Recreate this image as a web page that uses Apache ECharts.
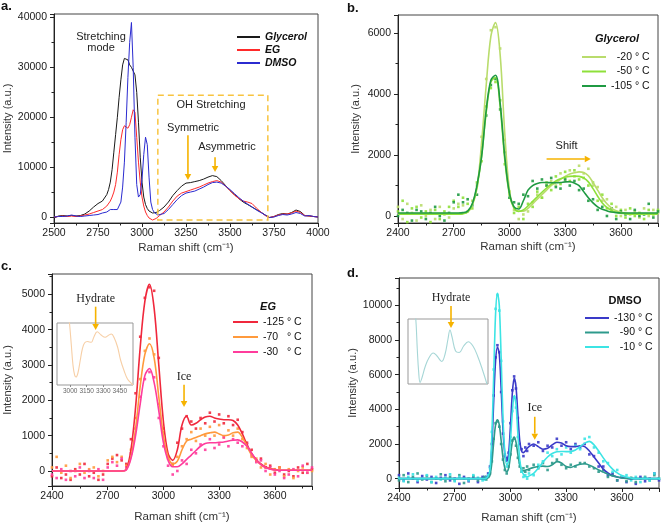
<!DOCTYPE html>
<html><head><meta charset="utf-8">
<script src="https://cdn.jsdelivr.net/npm/echarts@6/dist/echarts.min.js"></script>
<style>html,body{margin:0;padding:0;background:#fff}#c{width:661px;height:526px}</style>
</head><body><div id="c"></div>
<script>
// ---------- Panel a: raw spectra ----------
const xA = [2500,2525,2550,2575,2600,2625,2650,2675,2700,2725,2750,2775,2800,
 2810,2820,2830,2840,2850,2860,2870,2880,2890,2900,2910,2920,2930,2940,2950,2960,2970,2980,2990,3000,3010,3020,3030,3040,3050,3060,3070,3080,3090,3100,
 3125,3150,3175,3200,3225,3250,3275,3300,3325,3350,3375,3400,3425,3450,3475,3500,3525,3550,3575,3600,3625,3650,3675,3700,3725,3750,3775,3800,3825,3850,3875,3900,3925,3950,3975,4000];
const aGlycerol = [-200,200,300,200,300,200,300,600,1200,2000,2700,3200,4500,
 5500,7000,9500,13000,16500,20000,24000,27500,30500,31800,32000,31500,30500,30000,29800,28500,25000,19000,12000,7000,4000,2500,1700,1200,900,800,800,900,1100,1300,
 2000,3000,4300,5300,6200,6800,6900,7100,7300,7600,8000,8300,8100,7300,6300,5300,4500,3700,3000,2500,2000,1500,1000,400,-100,100,500,700,600,900,1400,1100,300,200,100,0];
const aEG = [0,100,200,100,200,100,200,400,600,900,1200,1500,2200,
 2600,3200,4000,5000,6500,9000,12500,15500,17500,18300,18000,17800,18500,20000,21500,21000,16000,11000,7000,4000,2200,1000,300,-200,-500,-600,-500,-300,0,300,
 1000,2000,3200,4200,4800,5100,5400,5700,6000,6400,6800,7100,7300,7000,6200,5300,4400,3700,3200,3000,2700,1800,1000,300,-100,100,400,600,600,800,1200,900,300,200,100,0];
const aDMSO = [0,100,100,200,400,200,100,200,300,400,500,800,1000,
 1200,1500,1800,1500,1400,1500,1800,3000,6000,11000,19000,28000,35000,39000,30000,16000,6500,4000,4500,7500,12500,16000,14500,8000,3000,1500,900,600,400,300,
 700,1500,2500,3500,4300,4800,5000,5200,5600,6000,6500,6900,7000,6800,6200,5500,4700,3900,3200,2600,2000,1400,900,400,-100,0,300,500,400,600,900,700,200,300,100,0];

// ---------- Panel b: Glycerol ----------
const xB = [2400,2425,2450,2475,2500,2525,2550,2575,2600,2625,2650,2675,2700,2725,2750,2775,2800,2825,2850,2875,2900,2925,2950,2975,3000,3025,3050,3075,3100,3125,3150,3175,3200,3225,3250,3275,3300,3325,3350,3375,3400,3425,3450,3475,3500,3525,3550,3575,3600,3625,3650,3675,3700,3725,3750,3775,3800];
const fitB20 = [80,80,80,80,80,80,80,80,80,80,80,80,80,80,
 90,130,350,900,2400,4300,5900,6350,5300,2700,850,260,160,160,250,400,550,700,850,1000,1100,1200,1300,1380,1420,1450,1430,1320,1100,850,600,400,260,170,120,100,
 80,80,80,80,80,80,80];
const fitB50 = [60,60,60,60,60,60,60,60,60,60,60,60,60,60,
 70,130,380,950,1950,3400,4400,4550,3600,1850,700,250,150,200,330,480,630,780,920,1050,1150,1220,1270,1300,1310,1300,1250,1120,900,650,430,280,180,120,90,70,
 60,60,60,60,60,60,60];
const fitB105 = [100,100,100,100,100,100,100,100,100,100,100,100,100,100,
 110,160,400,1000,1950,3480,4460,4620,3700,1950,750,300,230,500,850,1000,1070,1100,1100,1090,1090,1100,1120,1125,1080,1000,800,600,430,300,220,170,130,110,100,100,
 100,100,100,100,100,100,100];
const ptsB20 = [300,-100,400,100,-150,350,0,200,-100,300, 50,-50,250,400,350,150,500,1000,2600,4500, 6100,6200,5500,2500,700,200,-100,50,150,450, 700,600,1000,1150,1000,1400,1200,1500,1300,1650, 1400,1550,1000,950,500,550,150,300,0,200, 50,150,-50,250,0,200,100];
const ptsB50 = [150,500,-200,250,300,-50,150,-200,200,-100, 150,300,500,300,600,400,250,1100,1800,3600, 4200,4400,3800,1700,800,100,300,-100,400,300, 800,600,1100,850,1300,1050,1450,1150,1500,1200, 1250,1000,1100,500,700,250,400,0,200,-50, 250,0,100,-100,200,50,200];
const ptsB105 = [0,200,100,-150,200,150,-100,100,300,0, -150,100,450,700,450,550,350,700,2100,3300, 4300,4500,3500,2100,600,450,400,700,650,1150, 900,1200,1000,1250,950,900,1200,1000,1150,850, 900,500,550,200,300,0,250,-100,150,50, -100,200,0,50,400,-50,150];

// ---------- Panel c: EG ----------
const xC = xB.slice();
const fitC125 = [0,0,0,0,0,0,0,0,0,0,0,0,0,0,0,0,
 50,600,1800,3500,4800,5280,4600,3000,1400,500,300,600,1300,1550,1300,1350,1450,1530,1550,1500,1470,1450,1450,1430,1300,1050,750,500,320,200,120,70,40,
 20,20,20,20,20,20,20,20];
const fitC70 = [0,0,0,0,0,0,0,0,0,0,0,0,0,0,0,0,
 40,400,1200,2400,3300,3600,3200,2100,1000,400,200,280,600,850,900,950,1000,1050,1080,1100,1050,1000,1020,1080,1100,950,700,450,300,180,100,60,30,
 20,20,20,20,20,20,20,20];
const fitC30 = [0,0,0,0,0,0,0,0,0,0,0,0,0,0,0,0,
 30,350,1000,1900,2700,2900,2500,1700,800,300,120,120,200,330,450,580,700,780,800,800,810,820,850,870,880,820,700,500,320,180,100,50,30,
 20,20,20,20,20,20,20,20];
const ptsC125 = [-150,100,-200,-100,-250,50,-100,200,-150,-50, -250,-100,200,350,450,300,200,900,2200,3800, 4900,5200,5100,3200,1200,400,200,800,1200,1550, 1400,1200,1500,1350,1650,1400,1600,1350,1550,1300, 1450,1100,800,600,300,350,100,150,-50,100, -100,0,-150,100,-50,200,50];
const ptsC70 = [100,400,-50,150,-200,0,200,-50,50,100, -150,0,300,400,250,400,150,600,1500,2600, 3400,3750,3300,1900,1100,350,150,400,700,900, 1100,850,1200,1000,1250,1000,1300,950,1150,1000, 1200,900,650,400,350,100,200,-100,50,100, -150,50,-200,0,100,-50,0];
const ptsC30 = [-100,-200,50,-250,0,-150,100,-200,0,-200, 50,-250,100,250,150,350,100,500,1200,2100, 2600,2800,2650,1500,700,150,-100,0,300,200, 600,500,750,600,900,650,750,950,700,900, 800,700,750,450,250,300,0,100,-100,0, -200,-100,50,-150,150,-50,100];
const insetCX = [2980,2995,3010,3025,3040,3053,3070,3090,3110,3130,3157,3175,3192,3215,3245,3280,3318,3345,3374,3400,3430,3457,3490,3520,3555,3570];
const insetCY = [75,60,40,20,10,8,12,24,36,42,43.5,43,42.7,48,53.3,50,47.7,49.5,51,47,38,25,14,6,1.7,0];

// ---------- Panel d: DMSO ----------
const xD = [2400,2425,2450,2475,2500,2525,2550,2575,2600,2625,2650,2675,2700,2725,2750,2775,2800,2825,2850,
 2860,2870,2880,2890,2900,2910,2920,2930,2940,2950,2960,2970,2980,2990,3000,3010,3020,3030,3040,3050,3060,3070,3080,3090,3100,
 3125,3150,3175,3200,3225,3250,3275,3300,3325,3350,3375,3400,3425,3450,3475,3500,3525,3550,3575,3600,3625,3650,3675,3700,3725,3750,3775,3800];
const fitD130 = [0,0,0,0,0,0,0,0,0,0,0,0,0,0,0,0,0,0,0,
 0,30,120,400,1800,4500,6800,7600,7200,5200,2800,1400,1000,1400,3000,4900,5800,5300,3700,2200,1600,1500,1600,1750,1850,
 2000,1850,1700,1750,1950,2100,2050,1900,1850,1850,1900,1850,1600,1250,900,550,330,180,100,50,20,0,0,0,0,0,0,0];
const fitD90 = [0,0,0,0,0,0,0,0,0,0,0,0,0,0,0,0,0,0,0,
 0,20,60,200,900,2100,3100,3400,3100,2200,1200,600,400,600,1300,2100,2400,2100,1400,800,500,450,480,520,560,
 650,700,720,700,800,980,900,700,650,750,830,860,780,650,500,380,260,160,90,40,15,0,0,0,0,0,0,0];
const fitD10 = [0,0,0,0,0,0,0,0,0,0,0,0,0,0,0,0,0,0,0,
 0,30,150,500,2500,6000,9500,10700,10000,7000,3500,1500,800,1000,2200,3800,4800,4300,2600,1100,500,250,120,100,150,
 300,600,950,1250,1450,1550,1570,1560,1570,1650,1850,2050,2150,1950,1600,1200,850,550,330,180,100,40,0,0,0,0,0,0];
const ptsD130 = [200,-100,300,0,-200,150,-50,100,-250,50,200,-100,0,-300,100,-150,50,-200,100,
 0,100,300,700,2000,4800,7000,7700,7300,5000,2600,1300,1200,1500,3200,5100,5900,5200,3500,2000,1700,1300,1800,1600,2000,
 1900,2100,1600,1900,1800,2300,1900,2100,1700,2000,1800,2000,1400,1300,700,700,200,300,-100,100,-200,0,-300,100,-150,0,300,-100];
const ptsD90 = [-100,200,-200,100,300,-50,150,-200,0,250,-150,100,-100,200,-250,0,150,-100,0,
 100,-50,100,300,1000,2300,3200,3300,3000,2000,1100,500,300,700,1400,2200,2300,1900,1200,700,400,600,400,700,500,
 800,600,900,500,900,1100,800,600,800,700,900,900,700,600,400,500,100,200,-100,100,-150,50,-200,0,100,-100,200,0];
const ptsD10 = [50,-150,100,250,-100,0,200,-200,100,-50,50,250,-150,100,0,-100,200,50,-100,
 -50,50,200,600,2700,6300,9800,10600,9700,6800,3300,1400,700,1100,2400,3900,4700,4100,2400,900,400,100,200,0,300,
 200,800,1000,1500,1300,1700,1400,1800,1500,1900,1700,2300,2400,1800,1500,1000,900,400,500,100,200,-100,100,-200,50,-100,300,0];
const insetDX = [2940,2950,2960,2972,2984,3000,3030,3060,3098,3130,3171,3200,3225,3242,3260,3290,3322,3360,3400,3440,3480,3520,3561];
const insetDY = [75,60,35,12,1.5,6,18,26,31,28,22.5,30,45,54,47,33,31.5,38,42.3,38,28,15,0];

// ---------- chart ----------
const FONT = '"Liberation Sans", Arial, sans-serif';
const zip = (xs, ys) => xs.map((x, i) => [x, ys[i]]);
const fmt = v => String(v);

function xAx(gi, min, max, step, name, gap, showMax) {
  return {type:'value', gridIndex:gi, min:min, max:max, minInterval:step, maxInterval:step, splitNumber:6,
    name:name, nameLocation:'middle', nameGap:gap, nameTextStyle:{fontSize:11.5, color:'#333', fontFamily:FONT},
    axisLine:{show:true, onZero:false, lineStyle:{color:'#222', width:1}},
    axisTick:{show:true, length:4, lineStyle:{color:'#222'}},
    minorTick:{show:true, splitNumber:2, length:2.5, lineStyle:{color:'#222'}},
    splitLine:{show:false},
    axisLabel:{fontSize:10.5, color:'#1a1a1a', fontFamily:FONT, margin:5, formatter:fmt, showMinLabel:true, showMaxLabel:showMax}};
}
function yAx(gi, min, max, step, gap) {
  return {type:'value', gridIndex:gi, min:min, max:max, minInterval:step, maxInterval:step, splitNumber:5,
    name:'Intensity (a.u.)', nameLocation:'middle', nameGap:gap, nameTextStyle:{fontSize:11, color:'#333', fontFamily:FONT},
    axisLine:{show:true, onZero:false, lineStyle:{color:'#222', width:1}},
    axisTick:{show:true, length:4, lineStyle:{color:'#222'}},
    minorTick:{show:true, splitNumber:2, length:2.5, lineStyle:{color:'#222'}},
    splitLine:{show:false},
    axisLabel:{fontSize:10.5, color:'#1a1a1a', fontFamily:FONT, margin:7, formatter:fmt, showMinLabel:false, showMaxLabel:false}};
}
const RS = 'Raman shift (cm\u207B\u00B9)';
const gridBase = {show:true, borderColor:'#444', borderWidth:1, containLabel:false};

function lineS(name, gi, xs, ys, color, width, smooth) {
  return {type:'line', name:name, xAxisIndex:gi, yAxisIndex:gi, data:zip(xs, ys), symbol:'none', smooth:smooth||false,
    lineStyle:{color:color, width:width}, itemStyle:{color:color}, silent:true, z:3};
}
function ptS(gi, xs, ys, color) {
  return {type:'scatter', name:'pts'+gi+color, xAxisIndex:gi, yAxisIndex:gi, data:zip(xs, ys), symbol:'rect', symbolSize:2.6,
    itemStyle:{color:color, opacity:0.9}, silent:true, z:2};
}

const cB = ['#b9dc6c','#8ee03a','#1f9a42'];
const cC = ['#f0283c','#ff9a3c','#ff3c9c'];
const cD = ['#3a3ac8','#2e9a8c','#3ce4e4'];

const legendBase = {orient:'vertical', icon:'rect', itemWidth:24, itemHeight:2, padding:0, selectedMode:false,
  textStyle:{fontSize:10.5, color:'#111', fontFamily:FONT, lineHeight:12}};

const option = {
  animation:false,
  backgroundColor:'#fff',
  grid:[
    Object.assign({left:54, top:14, width:264, height:209}, gridBase),
    Object.assign({left:398, top:15, width:260, height:208}, gridBase),
    Object.assign({left:52, top:274, width:260, height:212}, gridBase),
    Object.assign({left:399, top:278, width:260, height:210}, gridBase),
    Object.assign({left:57, top:323, width:76, height:62}, gridBase, {borderColor:'#999', backgroundColor:'#fff'}),
    Object.assign({left:408, top:319, width:80, height:65}, gridBase, {borderColor:'#999', backgroundColor:'#fff'})
  ],
  xAxis:[
    xAx(0, 2500, 4000, 250, RS, 19, true),
    xAx(1, 2400, 3800, 300, RS, 18, false),
    xAx(2, 2400, 3800, 300, RS, 25, false),
    xAx(3, 2400, 3800, 300, RS, 24, false),
    {type:'value', gridIndex:4, min:2880, max:3570, minInterval:150, maxInterval:150, splitNumber:4,
      axisLine:{show:false}, axisTick:{show:true, length:2, lineStyle:{color:'#888'}}, splitLine:{show:false},
      axisLabel:{fontSize:6.5, color:'#666', fontFamily:FONT, margin:3, formatter:fmt, showMinLabel:false, showMaxLabel:false}},
    {type:'value', gridIndex:5, min:2880, max:3570, show:false}
  ],
  yAxis:[
    yAx(0, -1200, 40700, 10000, 41),
    yAx(1, -230, 6600, 2000, 37),
    yAx(2, -425, 5575, 1000, 39),
    yAx(3, -540, 11580, 2000, 40),
    {type:'value', gridIndex:4, min:0, max:62, show:false},
    {type:'value', gridIndex:5, min:0, max:65, show:false}
  ],
  legend:[
    Object.assign({}, legendBase, {left:237, top:31, itemWidth:23, itemGap:1, data:['Glycerol','EG','DMSO'],
      textStyle:{fontSize:10.5, color:'#111', fontFamily:FONT, fontWeight:'bold', fontStyle:'italic', lineHeight:12}}),
    Object.assign({}, legendBase, {left:582, top:51, itemGap:2.5, data:['  -20 \u00B0 C','  -50 \u00B0 C','-105 \u00B0 C']}),
    Object.assign({}, legendBase, {left:233, top:316, itemWidth:25, itemGap:3, data:['-125 \u00B0 C','-70   \u00B0 C','-30   \u00B0 C']}),
    Object.assign({}, legendBase, {left:585, top:312, itemGap:2.5, data:['-130 \u00B0 C','  -90 \u00B0 C','  -10 \u00B0 C']})
  ],
  series:[
    lineS('Glycerol', 0, xA, aGlycerol, '#1a1a1a', 1),
    lineS('EG', 0, xA, aEG, '#ff2a2a', 1),
    lineS('DMSO', 0, xA, aDMSO, '#2b2bd0', 1),

    ptS(1, xB, ptsB20, cB[0]), ptS(1, xB, ptsB50, cB[1]), ptS(1, xB, ptsB105, cB[2]),
    lineS('  -20 \u00B0 C', 1, xB, fitB20, cB[0], 1.6, 0.35),
    lineS('  -50 \u00B0 C', 1, xB, fitB50, cB[1], 1.6, 0.35),
    lineS('-105 \u00B0 C', 1, xB, fitB105, cB[2], 1.6, 0.35),

    ptS(2, xC, ptsC125, cC[0]), ptS(2, xC, ptsC70, cC[1]), ptS(2, xC, ptsC30, cC[2]),
    lineS('-125 \u00B0 C', 2, xC, fitC125, cC[0], 1.6, 0.35),
    lineS('-70   \u00B0 C', 2, xC, fitC70, cC[1], 1.6, 0.35),
    lineS('-30   \u00B0 C', 2, xC, fitC30, cC[2], 1.6, 0.35),

    ptS(3, xD, ptsD130, cD[0]), ptS(3, xD, ptsD90, cD[1]), ptS(3, xD, ptsD10, cD[2]),
    lineS('-130 \u00B0 C', 3, xD, fitD130, cD[0], 1.6, 0.3),
    lineS('  -90 \u00B0 C', 3, xD, fitD90, cD[1], 1.6, 0.3),
    lineS('  -10 \u00B0 C', 3, xD, fitD10, cD[2], 1.6, 0.3),

    lineS('insetC', 4, insetCX, insetCY, '#f7cfa6', 1.1, 0.4),
    lineS('insetD', 5, insetDX, insetDY, '#a6d6d6', 1.1, 0.4)
  ]
};

const chart = echarts.init(document.getElementById('c'), null, {renderer:'canvas'});
chart.setOption(option);

// ---------- annotations (placed through the axes' own scales) ----------
const P = (g, x, y) => chart.convertToPixel({gridIndex:g}, [x, y]);
const ANN = '#f6b300';
function txt(p, s, font, color) {
  return {type:'text', x:p[0], y:p[1], z:100,
    style:{text:s, font:font, fill:color || '#222', align:'center', verticalAlign:'middle', textAlign:'center', textVerticalAlign:'middle'}};
}
function txtL(x, y, s, font) {
  return {type:'text', x:x, y:y, z:100, style:{text:s, font:font, fill:'#111', align:'left', verticalAlign:'middle', textAlign:'left', textVerticalAlign:'middle'}};
}
function arrow(p1, p2) {
  const dx = p2[0]-p1[0], dy = p2[1]-p1[1], L = Math.hypot(dx, dy), ux = dx/L, uy = dy/L;
  const h = 6, w = 3.3, b = [p2[0]-ux*h, p2[1]-uy*h];
  return [
    {type:'line', z:100, shape:{x1:p1[0], y1:p1[1], x2:b[0], y2:b[1]}, style:{stroke:ANN, lineWidth:1.6}},
    {type:'polygon', z:100, shape:{points:[[p2[0],p2[1]],[b[0]-uy*w, b[1]+ux*w],[b[0]+uy*w, b[1]-ux*w]]}, style:{fill:ANN}}
  ];
}
const SANS = '11px ' + FONT;
const SERIF = '12px "Liberation Serif", "Times New Roman", serif';
const g = [];
// panel letters and legend titles
g.push(txtL(1, 6, 'a.', 'bold 13px ' + FONT));
g.push(txtL(347, 8, 'b.', 'bold 13px ' + FONT));
g.push(txtL(1, 266, 'c.', 'bold 13px ' + FONT));
g.push(txtL(347, 273, 'd.', 'bold 13px ' + FONT));
g.push({type:'text', x:617, y:39, z:100, style:{text:'Glycerol', font:'italic bold 11px ' + FONT, fill:'#111', align:'center', verticalAlign:'middle', textAlign:'center', textVerticalAlign:'middle'}});
g.push({type:'text', x:268, y:307, z:100, style:{text:'EG', font:'italic bold 11px ' + FONT, fill:'#111', align:'center', verticalAlign:'middle', textAlign:'center', textVerticalAlign:'middle'}});
g.push({type:'text', x:625, y:301, z:100, style:{text:'DMSO', font:'bold 11px ' + FONT, fill:'#111', align:'center', verticalAlign:'middle', textAlign:'center', textVerticalAlign:'middle'}});
// panel a
g.push(txt(P(0, 2767, 36000), 'Stretching', SANS));
g.push(txt(P(0, 2767, 33800), 'mode', SANS));
const r1 = P(0, 3090, 24400), r2 = P(0, 3715, -600);
g.push({type:'rect', z:90, shape:{x:r1[0], y:r1[1], width:r2[0]-r1[0], height:r2[1]-r1[1]},
  style:{stroke:'#f8c440', fill:'none', lineWidth:1.5, lineDash:[6,4]}});
g.push(txt(P(0, 3392, 22400), 'OH Stretching', SANS));
g.push(txt(P(0, 3290, 17800), 'Symmetric', SANS));
g.push(...arrow(P(0, 3261, 16400), P(0, 3261, 7400)));
g.push(txt(P(0, 3483, 14000), 'Asymmetric', SANS));
g.push(...arrow(P(0, 3415, 12000), P(0, 3415, 9000)));
// panel b
g.push(txt(P(1, 3308, 2296), 'Shift', SANS));
g.push(...arrow(P(1, 3200, 1870), P(1, 3438, 1870)));
// panel c
g.push(txt(P(2, 2635, 4870), 'Hydrate', SERIF));
g.push(...arrow(P(2, 2635, 4650), P(2, 2635, 3990)));
g.push(txt(P(2, 3111, 2660), 'Ice', SERIF));
g.push(...arrow(P(2, 3111, 2440), P(2, 3111, 1810)));
// panel d
g.push(txt(P(3, 2680, 10430), 'Hydrate', SERIF));
g.push(...arrow(P(3, 2680, 9970), P(3, 2680, 8700)));
g.push(txt(P(3, 3131, 4090), 'Ice', SERIF));
g.push(...arrow(P(3, 3131, 3570), P(3, 3131, 2250)));

chart.setOption({graphic:{elements:g}});
</script></body></html>
